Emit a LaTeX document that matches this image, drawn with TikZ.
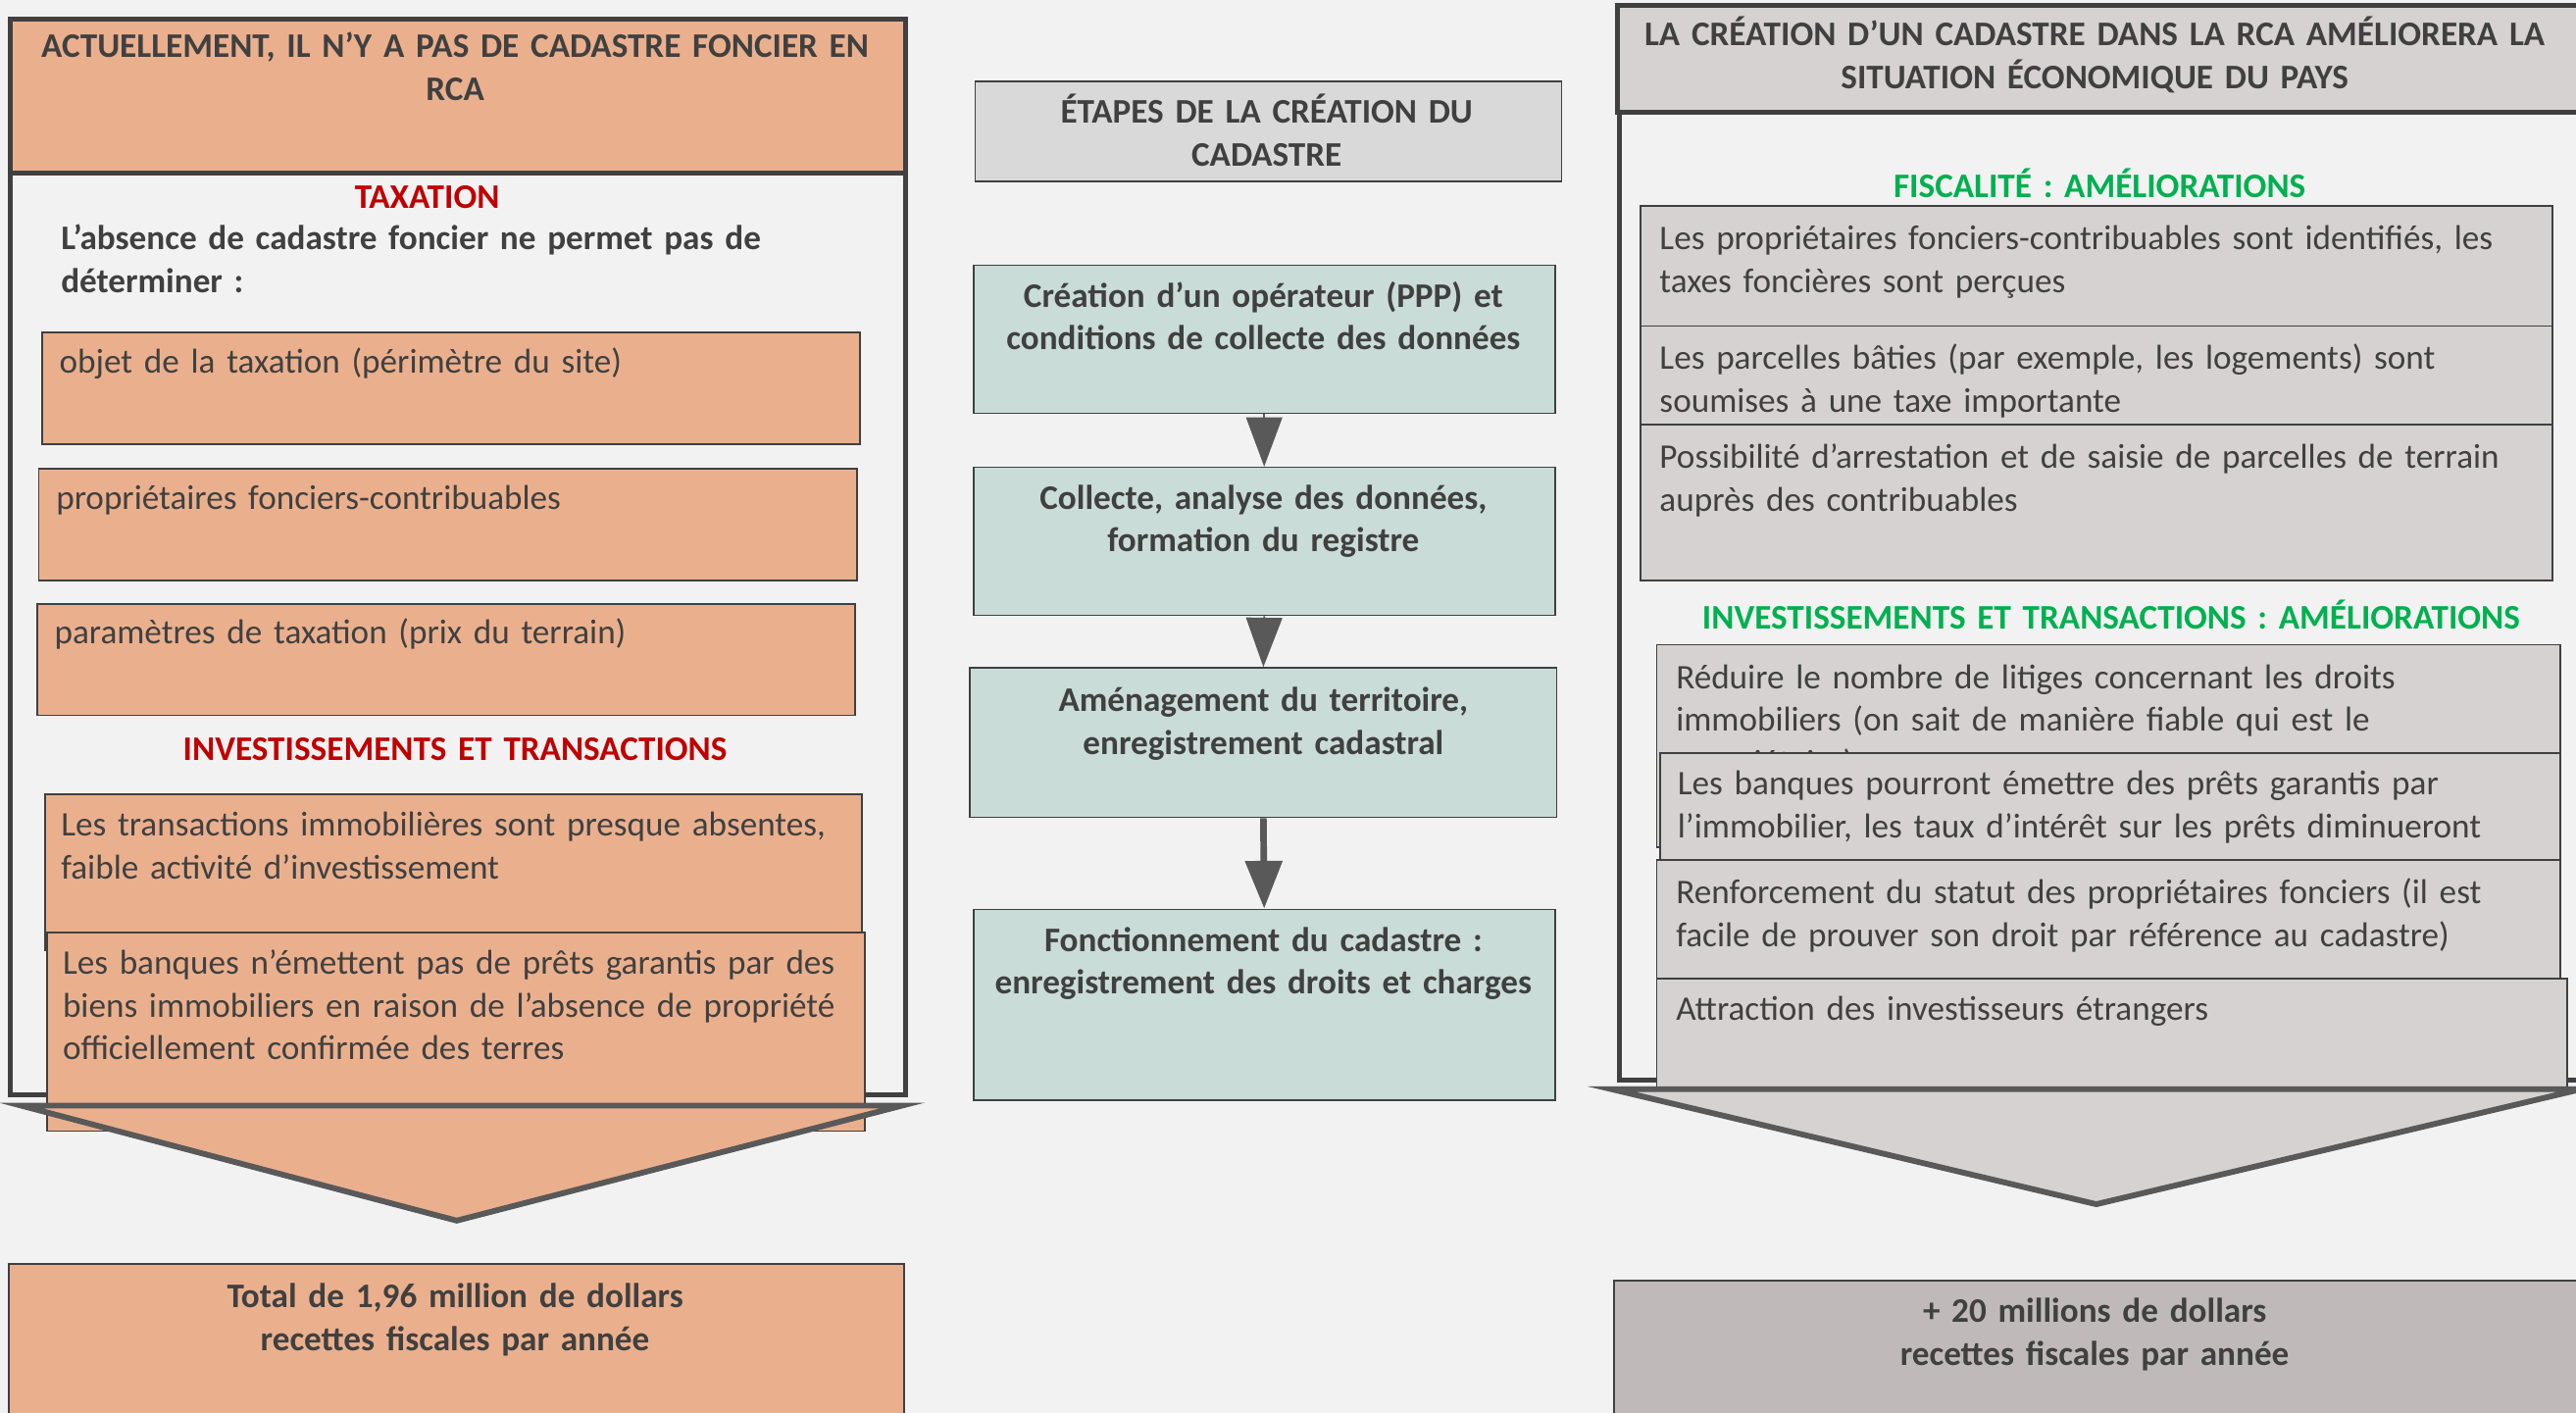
\documentclass[tikz,border=0pt]{standalone}
\usepackage{fontspec}
\setmainfont{Carlito}
\usetikzlibrary{arrows.meta}
\definecolor{bg}{HTML}{F2F2F2}
\definecolor{salmon}{HTML}{EAB08E}
\definecolor{ink}{HTML}{404040}
\definecolor{frame}{HTML}{404040}
\definecolor{redh}{HTML}{C00000}
\definecolor{greenh}{HTML}{00B050}
\definecolor{teal}{HTML}{C9DCD7}
\definecolor{midgray}{HTML}{D9D9D9}
\definecolor{warm}{HTML}{D5D2D1}
\definecolor{warmdark}{HTML}{BFBAB9}
\definecolor{arrowc}{HTML}{595959}
\begin{document}
\begin{tikzpicture}[x=1pt,y=-1pt,
  every node/.style={font=\fontsize{21}{26}\selectfont, text=ink},
  panel/.style={draw=frame, line width=3pt, anchor=north west, inner sep=0pt},
  box/.style={draw=frame, line width=1pt, anchor=north west, inner sep=0pt},
  txtl/.style={anchor=base west, inner sep=0pt, text width=600pt, align=left},
  txtc/.style={anchor=base, inner sep=0pt, text width=640pt, align=center, font=\fontsize{21}{26}\selectfont\bfseries},
  stepbox/.style={box, fill=teal, minimum width=354, minimum height=91},
  flow/.style={draw=arrowc, line width=1pt, -{Triangle[width=22pt,length=30pt]}, fill=arrowc},
  chevron/.style={draw=arrowc, line width=3.5pt, line join=miter}
]
\useasboundingbox (0,0) rectangle (1568,860);
\clip (0,0) rectangle (1568,860);
\fill[bg] (0,0) rectangle (1568,860);

% ---------------- LEFT PANEL ----------------
\node[panel, fill=bg, minimum width=545, minimum height=655] (lframe) at (5,10) {};
\node[panel, fill=salmon, minimum width=545, minimum height=94] (lhead) at (5,10) {};
\node[txtc] (lheadt) at (277,35) {ACTUELLEMENT, IL N’Y A PAS DE CADASTRE FONCIER EN\\RCA};
\node[txtc, text=redh] (ltax) at (260,127) {TAXATION};
\node[txtl, font=\fontsize{21}{26}\selectfont\bfseries] (labs) at (37,152) {L’absence de cadastre foncier ne permet pas de\\déterminer :};
\node[box, fill=salmon, minimum width=498, minimum height=68] (lb1) at (25,202) {};
\node[txtl] (lb1t) at (36,227) {objet de la taxation (périmètre du site)};
\node[box, fill=salmon, minimum width=498, minimum height=68] (lb2) at (23,285) {};
\node[txtl] (lb2t) at (34,310) {propriétaires fonciers-contribuables};
\node[box, fill=salmon, minimum width=498, minimum height=68] (lb3) at (22,367) {};
\node[txtl] (lb3t) at (33,392) {paramètres de taxation (prix du terrain)};
\node[txtc, text=redh] (linv) at (277,463) {INVESTISSEMENTS ET TRANSACTIONS};
\node[box, fill=salmon, minimum width=497, minimum height=95] (lb4) at (27,483) {};
\node[txtl] (lb4t) at (37,509) {Les transactions immobilières sont presque absentes,\\faible activité d’investissement};
\node[box, fill=salmon, minimum width=498, minimum height=121] (lb5) at (28,567) {};
\node[txtl] (lb5t) at (38,593) {Les banques n’émettent pas de prêts garantis par des\\biens immobiliers en raison de l’absence de propriété\\officiellement confirmée des terres};
\coordinate (lchA) at (13,673);
\coordinate (lchB) at (549,673);
\coordinate (lchC) at (278,743);
\filldraw[chevron, fill=salmon] (lchA) -- (lchB) -- (lchC) -- cycle;
\node[box, fill=salmon, minimum width=545, minimum height=120] (ltot) at (5,769) {};
\node[txtc] (ltott) at (277,796) {Total de 1,96 million de dollars\\recettes fiscales par année};

% ---------------- MIDDLE ----------------
\node[box, fill=midgray, minimum width=357, minimum height=61] (mhead) at (593,49) {};
\node[txtc] (mheadt) at (771,75) {ÉTAPES DE LA CRÉATION DU\\CADASTRE};
\node[stepbox, minimum height=90] (s1) at (592,161) {};
\node[txtc] (s1t) at (769,187) {Création d’un opérateur (PPP) et\\conditions de collecte des données};
\node[stepbox, minimum height=90] (s2) at (592,284) {};
\node[txtc] (s2t) at (769,310) {Collecte, analyse des données,\\formation du registre};
\node[stepbox, minimum width=357] (s3) at (590,406) {};
\node[txtc] (s3t) at (769,433) {Aménagement du territoire,\\enregistrement cadastral};
\node[stepbox, minimum height=116] (s4) at (592,553) {};
\node[txtc] (s4t) at (769,579) {Fonctionnement du cadastre :\\enregistrement des droits et charges};
\draw[flow] (s1.south) -- (s2.north);
\draw[flow] (s2.south) -- (s3.north);
\draw[draw=arrowc, line width=4pt, -{Triangle[width=22pt,length=29pt]}] (s3.south) -- (s4.north);

% ---------------- RIGHT PANEL ----------------
\node[panel, fill=bg, minimum width=640, minimum height=654] (rframe) at (984,2) {};
\node[panel, fill=warm, minimum width=640, minimum height=65] (rhead) at (983,2) {};
\node[txtc] (rheadt) at (1275,28) {LA CRÉATION D'UN CADASTRE DANS LA RCA AMÉLIORERA LA\\SITUATION ÉCONOMIQUE DU PAYS};
\node[txtc, text=greenh] (rfis) at (1278,120) {FISCALITÉ : AMÉLIORATIONS};
\node[box, fill=warm, minimum width=555, minimum height=73] (rf1) at (998,125) {};
\node[txtl] (rf1t) at (1010,152) {Les propriétaires fonciers-contribuables sont identifiés, les\\taxes foncières sont perçues};
\node[box, fill=warm, minimum width=555, minimum height=60] (rf2) at (998,198) {};
\node[txtl] (rf2t) at (1010,225) {Les parcelles bâties (par exemple, les logements) sont\\soumises à une taxe importante};
\node[box, fill=warm, minimum width=555, minimum height=95] (rf3) at (998,258) {};
\node[txtl] (rf3t) at (1010,285) {Possibilité d’arrestation et de saisie de parcelles de terrain\\auprès des contribuables};
\node[txtc, text=greenh] (rinv) at (1285,383) {INVESTISSEMENTS ET TRANSACTIONS : AMÉLIORATIONS};
\node[box, fill=warm, minimum width=550, minimum height=123] (ri1) at (1008,392) {};
\node[txtl] (ri1t) at (1020,419) {Réduire le nombre de litiges concernant les droits\\immobiliers (on sait de manière fiable qui est le\\propriétaire)};
\node[box, fill=warm, minimum width=548, minimum height=65] (ri2) at (1010,458) {};
\node[txtl] (ri2t) at (1021,484) {Les banques pourront émettre des prêts garantis par\\l’immobilier, les taux d’intérêt sur les prêts diminueront};
\node[box, fill=warm, minimum width=550, minimum height=72] (ri3) at (1008,523) {};
\node[txtl] (ri3t) at (1020,550) {Renforcement du statut des propriétaires fonciers (il est\\facile de prouver son droit par référence au cadastre)};
\node[box, fill=warm, minimum width=554, minimum height=68] (ri4) at (1008,595) {};
\node[txtl] (ri4t) at (1020,621) {Attraction des investisseurs étrangers};
\coordinate (rchA) at (981,663);
\coordinate (rchB) at (1571,663);
\coordinate (rchC) at (1276,733);
\filldraw[chevron, fill=warm] (rchA) -- (rchB) -- (rchC) -- cycle;
\node[box, fill=warmdark, minimum width=640, minimum height=110] (rtot) at (982,779) {};
\node[txtc] (rtott) at (1275,805) {+ 20 millions de dollars\\recettes fiscales par année};
\end{tikzpicture}
\end{document}
